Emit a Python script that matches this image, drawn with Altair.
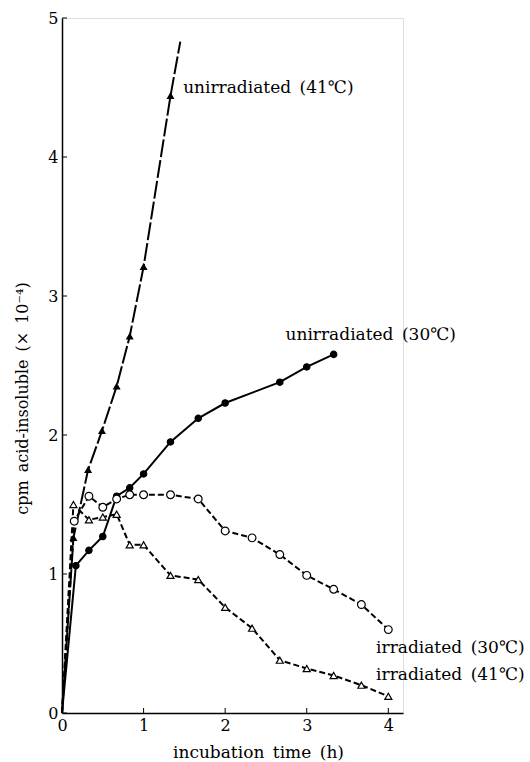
import altair as alt
import pandas as pd

# --- data ---
u41_t = [0, 0.14, 0.32, 0.49, 0.67, 0.83, 1.0, 1.33, 1.45]
u41_y = [0, 1.26, 1.75, 2.03, 2.35, 2.71, 3.21, 4.44, 4.83]

u30_t = [0, 0.17, 0.33, 0.5, 0.67, 0.83, 1.0, 1.33, 1.67, 2.0, 2.67, 3.0, 3.33]
u30_y = [0, 1.06, 1.17, 1.27, 1.56, 1.62, 1.72, 1.95, 2.12, 2.23, 2.38, 2.49, 2.58]

i30_t = [0, 0.15, 0.33, 0.5, 0.67, 0.83, 1.0, 1.33, 1.67, 2.0, 2.33, 2.67, 3.0, 3.33, 3.67, 4.0]
i30_y = [0, 1.38, 1.56, 1.48, 1.54, 1.57, 1.57, 1.57, 1.54, 1.31, 1.26, 1.14, 0.99, 0.89, 0.78, 0.60]

i41_t = [0, 0.14, 0.33, 0.5, 0.67, 0.83, 1.0, 1.33, 1.67, 2.0, 2.33, 2.67, 3.0, 3.33, 3.67, 4.0]
i41_y = [0, 1.50, 1.39, 1.41, 1.43, 1.21, 1.21, 0.99, 0.96, 0.76, 0.61, 0.38, 0.32, 0.27, 0.20, 0.12]

x_ticks = [0, 1, 2, 3, 4]
y_ticks = [0, 1, 2, 3, 4, 5]

label_text = ["unirradiated\u2002(41\u2103)", "unirradiated\u2002(30\u2103)",
              "irradiated\u2002(30\u2103)", "irradiated\u2002(41\u2103)"]
label_t = [1.485, 2.74, 3.85, 3.85]
label_y = [4.50, 2.72, 0.47, 0.27]

FONT = "DejaVu Serif"

xs = alt.Scale(domain=[0, 4.18], nice=False)
ys = alt.Scale(domain=[0, 5], nice=False)

X_AXIS = alt.Axis(values=x_ticks, format="d",
                  title="incubation\u2002time\u2002(h)", titleFontSize=17,
                  titleX=196, titleY=39, titleBaseline="middle")
Y_AXIS = alt.Axis(values=y_ticks, format="d",
                  title="cpm\u2002acid-insoluble\u2002(\u00d7\u200210\u207b\u2074)",
                  titleX=-40, titleY=380, titleBaseline="middle", titleAngle=270)


def X():
    return alt.X("t:Q", scale=xs, axis=X_AXIS)


def Y():
    return alt.Y("y:Q", scale=ys, axis=Y_AXIS)


def series_df(t, y):
    return pd.DataFrame({"t": t, "y": y})


def line_layer(df, dash):
    kw = dict(color="black", strokeWidth=2)
    if dash:
        kw["strokeDash"] = dash
    return alt.Chart(df).mark_line(**kw).encode(x=X(), y=Y())


def point_layer(df, shape, filled, size):
    return alt.Chart(df).mark_point(
        shape=shape, filled=True, size=size,
        fill="black" if filled else "white", stroke="black",
        strokeWidth=1.2, opacity=1,
    ).encode(x=X(), y=Y())


u41 = series_df(u41_t, u41_y)
u30 = series_df(u30_t, u30_y)
i30 = series_df(i30_t, i30_y)
i41 = series_df(i41_t, i41_y)

layers = [
    line_layer(u41, [18, 3]),
    line_layer(u30, None),
    line_layer(i30, [6, 3]),
    line_layer(i41, [6, 3]),
    point_layer(u41.iloc[1:-1], "triangle-up", True, 35),
    point_layer(u30.iloc[1:], "circle", True, 40),
    point_layer(i30.iloc[1:], "circle", False, 60),
    point_layer(i41.iloc[1:], "triangle-up", False, 50),
]

# inward tick marks
ytick_df = pd.DataFrame({"y": y_ticks})
xtick_df = pd.DataFrame({"t": x_ticks})
layers.append(alt.Chart(ytick_df).mark_rule(color="black", strokeWidth=1).encode(
    y=Y(), x=alt.value(0), x2=alt.value(5)))
layers.append(alt.Chart(xtick_df).mark_rule(color="black", strokeWidth=1).encode(
    x=X(), y=alt.value(695), y2=alt.value(690)))

lab_df = pd.DataFrame({"t": label_t, "y": label_y, "text": label_text})
layers.append(alt.Chart(lab_df).mark_text(
    align="left", baseline="middle", font=FONT, fontSize=17, color="black"
).encode(x=X(), y=Y(), text="text:N"))

chart = alt.layer(*layers).properties(
    width=341, height=695,
    autosize=alt.AutoSizeParams(type="none"),
    padding={"left": 62, "top": 18, "right": 127, "bottom": 49},
).configure_view(stroke=None).configure(background="white").configure_axis(
    grid=False, ticks=False, domainColor="black", domainWidth=1.5,
    labelFont=FONT, labelFontSize=16, labelColor="black", labelPadding=4,
    labelFlush=False, titleFont=FONT, titleFontSize=16, titleFontWeight="normal",
    titleColor="black",
)

chart.save("out.html", embed_options={"renderer": "svg", "actions": False})
